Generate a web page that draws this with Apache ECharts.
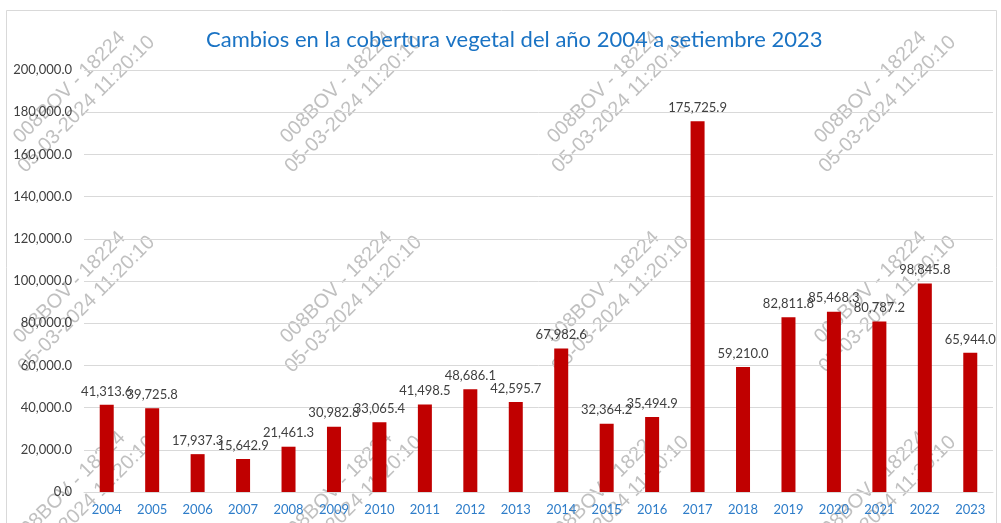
<!DOCTYPE html>
<html>
<head>
<meta charset="utf-8">
<script src="https://cdn.jsdelivr.net/npm/echarts@6/dist/echarts.min.js"></script>
<style>
  html, body { margin: 0; padding: 0; background: #fff; }
  #chart { width: 1001px; height: 523px; }
</style>
</head>
<body>
<div id="chart"></div>
<script>
const years = ['2004', '2005', '2006', '2007', '2008', '2009', '2010', '2011', '2012', '2013',
    '2014', '2015', '2016', '2017', '2018', '2019', '2020', '2021', '2022', '2023'];
const areas = [41313.6, 39725.8, 17937.3, 15642.9, 21461.3, 30982.8, 33065.4, 41498.5, 48686.1, 42595.7,
    67982.6, 32364.2, 35494.9, 175725.9, 59210.0, 82811.8, 85468.3, 80787.2, 98845.8, 65944.0];
const titleText = 'Cambios en la cobertura vegetal del año 2004 a setiembre 2023';
const stampLine1 = '008BOV - 18224';
const stampLine2 = '05-03-2024 11:20:10';

function fmt(v) {
    let parts = Number(v).toFixed(1).split('.');
    parts[0] = parts[0].replace(/\B(?=(\d{3})+(?!\d))/g, ',');
    return parts.join('.');
}

// watermark stamps, 4 columns x 3 rows
let stamps = [];
[78, 345, 612, 879].forEach((cx) => {
    [96, 296, 496].forEach((cy) => {
        stamps.push({
            type: 'group',
            x: cx,
            y: cy,
            rotation: Math.PI / 4,
            z: 100,
            silent: true,
            children: [{
                type: 'text',
                style: {
                    text: stampLine1, x: 0, y: -12,
                    align: 'center', verticalAlign: 'middle',
                    font: '20px "Liberation Sans", Arial, sans-serif',
                    fill: 'rgba(150,150,150,0.6)'
                }
            }, {
                type: 'text',
                style: {
                    text: stampLine2, x: 0, y: 12,
                    align: 'center', verticalAlign: 'middle',
                    font: '20px "Liberation Sans", Arial, sans-serif',
                    fill: 'rgba(150,150,150,0.6)'
                }
            }]
        });
    });
});

const myChart = echarts.init(document.getElementById('chart'));
myChart.setOption({
    animation: false,
    backgroundColor: '#fff',
    title: {
        text: titleText,
        left: 201,
        top: 24,
        textStyle: {
            color: '#1a73c4',
            fontFamily: 'Lato, "Open Sans", sans-serif',
            fontSize: 22,
            fontWeight: 'normal'
        }
    },
    grid: { left: 84, right: 8, top: 70, bottom: 31 },
    xAxis: {
        type: 'category',
        data: years,
        axisLine: { lineStyle: { color: '#d9d9d9' } },
        axisTick: { show: false },
        axisLabel: {
            color: '#2e7dc9',
            fontFamily: 'Lato, sans-serif',
            fontSize: 13,
            margin: 11
        }
    },
    yAxis: {
        type: 'value',
        min: 0,
        max: 200000,
        interval: 20000,
        axisLine: { show: false },
        axisTick: { show: false },
        splitLine: { lineStyle: { color: '#d9d9d9' } },
        axisLabel: {
            formatter: fmt,
            color: '#404040',
            fontFamily: 'Lato, sans-serif',
            fontSize: 13,
            margin: 12
        }
    },
    series: [{
        type: 'bar',
        data: areas,
        barWidth: 14,
        itemStyle: { color: '#c00000' },
        label: {
            show: true,
            position: 'top',
            distance: 7,
            formatter: (p) => fmt(p.value),
            color: '#404040',
            fontFamily: 'Lato, sans-serif',
            fontSize: 13
        }
    }],
    graphic: [{
        type: 'rect',
        shape: { x: 6.5, y: 10.5, width: 990, height: 530 },
        style: { fill: 'none', stroke: '#d9d9d9', lineWidth: 1 },
        silent: true,
        z: 0
    }].concat(stamps)
});
window.addEventListener('resize', myChart.resize);
</script>
</body>
</html>
